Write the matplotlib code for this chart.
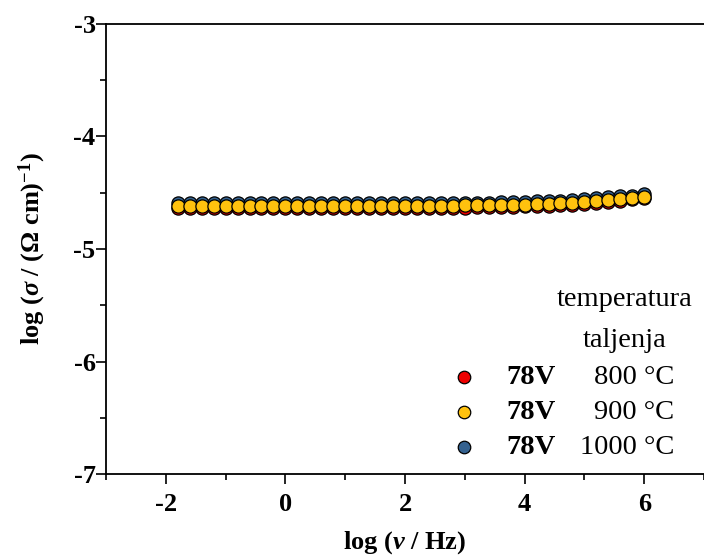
import numpy as np
import matplotlib
matplotlib.use('Agg')
import matplotlib.pyplot as plt

plt.rcParams['font.family'] = ['Liberation Serif', 'DejaVu Serif']
plt.rcParams['mathtext.fontset'] = 'custom'
plt.rcParams['mathtext.rm'] = 'Liberation Serif:bold'
plt.rcParams['mathtext.it'] = 'Liberation Serif:italic:bold'
plt.rcParams['mathtext.bf'] = 'Liberation Serif:bold'

# log frequency, 0.2 decade steps
log_nu = [-1.8, -1.6, -1.4, -1.2, -1.0, -0.8, -0.6, -0.4, -0.2, 0.0,
          0.2, 0.4, 0.6, 0.8, 1.0, 1.2, 1.4, 1.6, 1.8, 2.0,
          2.2, 2.4, 2.6, 2.8, 3.0, 3.2, 3.4, 3.6, 3.8, 4.0,
          4.2, 4.4, 4.6, 4.8, 5.0, 5.2, 5.4, 5.6, 5.8, 6.0]

# log conductivity for each melting temperature
sigma_800 = [-4.64, -4.64, -4.64, -4.64, -4.64, -4.64, -4.64, -4.64, -4.64, -4.64,
             -4.64, -4.64, -4.64, -4.64, -4.64, -4.64, -4.64, -4.64, -4.64, -4.64,
             -4.64, -4.64, -4.64, -4.64, -4.64, -4.63, -4.63, -4.63, -4.63, -4.62,
             -4.62, -4.62, -4.61, -4.61, -4.60, -4.59, -4.58, -4.57, -4.56, -4.55]
sigma_900 = [-4.615, -4.615, -4.615, -4.615, -4.615, -4.615, -4.615, -4.615, -4.615, -4.615,
             -4.615, -4.615, -4.615, -4.615, -4.615, -4.615, -4.615, -4.615, -4.615, -4.615,
             -4.615, -4.615, -4.615, -4.615, -4.613, -4.612, -4.61, -4.61, -4.607, -4.605,
             -4.60, -4.597, -4.593, -4.59, -4.582, -4.575, -4.565, -4.555, -4.545, -4.535]
sigma_1000 = [-4.59, -4.59, -4.59, -4.59, -4.59, -4.59, -4.59, -4.59, -4.59, -4.59,
              -4.59, -4.59, -4.59, -4.59, -4.59, -4.59, -4.59, -4.59, -4.59, -4.59,
              -4.59, -4.59, -4.59, -4.59, -4.59, -4.588, -4.587, -4.585, -4.583, -4.58,
              -4.577, -4.573, -4.57, -4.565, -4.558, -4.55, -4.54, -4.533, -4.525, -4.515]

temps = ['800 °C', '900 °C', '1000 °C']
colors = ['#ee0000', '#ffc20e', '#34618f']
all_sigma = [sigma_800, sigma_900, sigma_1000]
# blue at the back, then red, yellow on top
z_order = [4, 5, 3]

fig = plt.figure(figsize=(7.04, 5.55), dpi=100)
ax = fig.add_axes([0.1506, 0.1459, 0.8494, 0.8109])

for vals, col, z in zip(all_sigma, colors, z_order):
    ax.plot(log_nu, vals, 'o', ms=9.5, mfc=col, mec='black', mew=0.9, zorder=z)

ax.set_xlim(-3, 7)
ax.set_ylim(-7, -3)
ax.set_xticks([-2, 0, 2, 4, 6])
ax.set_xticks([-3, -1, 1, 3, 5, 7], minor=True)
ax.set_yticks([-7, -6, -5, -4, -3])
ax.set_yticks([-6.5, -5.5, -4.5, -3.5], minor=True)
ax.set_xticklabels(['-2', '0', '2', '4', '6'], fontweight='bold', fontsize=19)
ax.set_yticklabels(['-7', '-6', '-5', '-4', '-3'], fontweight='bold', fontsize=19)
ax.tick_params(which='major', direction='out', length=7, width=1.2)
ax.tick_params(which='minor', direction='out', length=4, width=1.2)
ax.tick_params(axis='x', which='major', pad=7)
ax.tick_params(axis='y', which='major', pad=0.5)
ax.tick_params(axis='x', top=False)
ax.spines['right'].set_visible(False)
for s in ['left', 'bottom', 'top']:
    ax.spines[s].set_linewidth(1.3)

ax.set_xlabel(r'log ($\nu$ / Hz)', fontsize=19, fontweight='bold', labelpad=9)
ax.set_ylabel(r'log ($\sigma$ / ($\Omega$ cm)$^{-1}$)', fontsize=19, fontweight='bold', labelpad=18)

# legend drawn by hand
ax.text(5.67, -5.453, 'temperatura', fontsize=20.5, ha='center', va='center')
ax.text(5.67, -5.809, 'taljenja', fontsize=20.5, ha='center', va='center')
leg_y = [-6.138, -6.449, -6.76]
for temp, col, yy in zip(temps, colors, leg_y):
    ax.plot([2.98], [yy], 'o', ms=9, mfc=col, mec='black', mew=0.9, clip_on=False)
    ax.text(4.1, yy, '78V', fontsize=20.5, fontweight='bold', ha='center', va='center')
    ax.text(6.5, yy, temp, fontsize=20.5, ha='right', va='center')

fig.savefig('out.png', dpi=100)
